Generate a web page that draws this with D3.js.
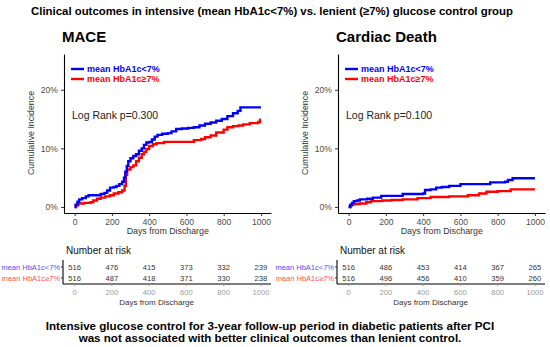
<!DOCTYPE html>
<html>
<head>
<meta charset="utf-8">
<script src="https://cdn.jsdelivr.net/npm/d3@7"></script>
<style>
  body { margin: 0; background: #fff; }
  text { font-family: "Liberation Sans", Arial, sans-serif; }
</style>
</head>
<body>
<div id="chart"></div>
<script>
// cumulative incidence curves, [day, percent]
var maceLow = [[0,0],[5,0.4],[15,0.9],[25,1.3],[40,1.5],[60,1.8],[75,2.0],[110,2.0],[140,2.2],[160,2.4],[175,2.8],[190,3.3],[210,3.4],[225,3.6],[240,3.9],[255,4.3],[265,5.0],[272,6.0],[280,7.0],[288,7.8],[300,8.3],[315,8.7],[330,9.0],[345,9.6],[360,10.0],[372,10.6],[385,11.0],[400,11.1],[415,11.5],[430,12.0],[445,12.3],[470,12.5],[500,12.6],[520,12.9],[545,13.3],[575,13.4],[610,13.5],[640,13.6],[670,13.9],[700,14.2],[730,14.4],[760,14.7],[790,15.0],[820,15.5],[850,16.0],[875,16.4],[890,17.0],[1000,17.0]];
var maceHigh = [[0,0],[8,0.3],[20,0.6],[50,0.7],[85,0.8],[100,1.1],[120,1.4],[140,1.6],[165,1.8],[190,2.0],[210,2.3],[235,2.5],[255,2.8],[268,3.6],[275,5.5],[282,6.4],[300,6.8],[315,7.1],[330,7.8],[345,8.4],[360,9.0],[372,9.4],[385,9.9],[400,10.4],[420,10.7],[440,10.9],[480,11.1],[620,11.1],[640,11.4],[680,11.6],[700,11.9],[730,12.2],[760,12.7],[800,13.2],[820,13.6],[850,13.8],[880,13.9],[905,14.1],[940,14.3],[985,14.5],[995,14.9],[1000,14.9]];
var cdLow = [[0,0],[8,0.3],[18,0.7],[28,1.0],[45,1.1],[60,1.3],[100,1.4],[130,1.6],[175,1.9],[240,1.9],[290,2.2],[360,2.2],[400,2.3],[410,2.9],[440,3.0],[470,3.3],[500,3.4],[540,3.6],[600,3.9],[700,3.9],[760,4.2],[840,4.3],[855,4.6],[880,4.9],[1000,4.9]];
var cdHigh = [[0,0],[10,0.4],[30,0.5],[60,0.6],[95,0.8],[120,1.0],[180,1.1],[230,1.2],[290,1.3],[370,1.5],[440,1.7],[540,1.8],[640,2.0],[700,2.3],[740,2.6],[800,2.7],[870,3.0],[1000,3.0]];

// number at risk
var riskDays = [0, 200, 400, 600, 800, 1000];
var maceRiskLow = [516, 476, 415, 373, 332, 239];
var maceRiskHigh = [516, 487, 418, 371, 330, 238];
var cdRiskLow = [516, 486, 453, 414, 367, 265];
var cdRiskHigh = [516, 496, 456, 410, 359, 260];

var groupNames = ["mean HbA1c<7%", "mean HbA1c\u22657%"];
var yTicks = [0, 10, 20];
var xTicks = [0, 200, 400, 600, 800, 1000];

var width = 550, height = 347;
var svg = d3.select("#chart").append("svg").attr("width", width).attr("height", height);

svg.append("text").attr("x", 272).attr("y", 15).attr("text-anchor", "middle")
  .style("font-size", "11.4px").style("font-weight", "bold")
  .text("Clinical outcomes in intensive (mean HbA1c<7%) vs. lenient (\u22657%) glucose control group");

svg.append("text").attr("x", 270).attr("y", 330).attr("text-anchor", "middle")
  .style("font-size", "11.6px").style("font-weight", "bold")
  .text("Intensive glucose control for 3-year follow-up period in diabetic patients after PCI");
svg.append("text").attr("x", 270).attr("y", 342).attr("text-anchor", "middle")
  .style("font-size", "11.6px").style("font-weight", "bold")
  .text("was not associated with better clinical outcomes than lenient control.");

function drawPanel(p) {
  var g = svg.append("g");
  var x = d3.scaleLinear().domain([-57, 1054]).range([p.left, p.left + 207]);
  var y = d3.scaleLinear().domain([-1.03, 26.1]).range([213, 54]);

  g.append("text").attr("x", p.left - 2).attr("y", 42)
    .style("font-size", "15px").style("font-weight", "bold").text(p.title);

  // axes
  var yAxis = g.append("g").attr("transform", "translate(" + p.left + ",0)")
    .call(d3.axisLeft(y).tickValues(yTicks).tickSize(3).tickSizeOuter(0).tickFormat(function(d) { return d + "%"; }));
  var xAxis = g.append("g").attr("transform", "translate(0,213)")
    .call(d3.axisBottom(x).tickValues(xTicks).tickSize(3).tickSizeOuter(0).tickFormat(d3.format("d")));
  [yAxis, xAxis].forEach(function(a) {
    a.select(".domain").attr("stroke", "#000").attr("stroke-width", 1.1);
    a.selectAll(".tick line").attr("stroke", "#333");
    a.selectAll("text").attr("fill", "#4d4d4d").style("font-size", "8.6px").style("font-family", "Liberation Sans, Arial, sans-serif");
  });

  g.append("text").attr("transform", "translate(" + (p.left - 30) + ",133) rotate(-90)")
    .attr("text-anchor", "middle").attr("fill", "#333").style("font-size", "8.8px").text("Cumulative Incidence");
  g.append("text").attr("x", x(500)).attr("y", 234).attr("text-anchor", "middle")
    .attr("fill", "#333").style("font-size", "8.8px").text("Days from Discharge");

  // curves
  var line = d3.line().curve(d3.curveStepAfter)
    .x(function(d) { return x(d[0]); })
    .y(function(d) { return y(d[1]); });
  g.append("path").datum(p.high).attr("d", line).attr("fill", "none").attr("stroke", "#ff0000").attr("stroke-width", 2.4);
  g.append("path").datum(p.low).attr("d", line).attr("fill", "none").attr("stroke", "#0000ff").attr("stroke-width", 2.4);

  // legend
  var colors = ["#0000ff", "#ff0000"];
  groupNames.forEach(function(name, i) {
    var ly = 69 + i * 10;
    g.append("line").attr("x1", p.left + 7).attr("x2", p.left + 20).attr("y1", ly).attr("y2", ly)
      .attr("stroke", colors[i]).attr("stroke-width", 2.4);
    g.append("text").attr("x", p.left + 23).attr("y", ly + 3.2).attr("fill", colors[i])
      .style("font-size", "9px").style("font-weight", "bold").text(name);
  });

  g.append("text").attr("x", p.left + 8).attr("y", 119).attr("fill", "#222")
    .style("font-size", "10.5px").text(p.logrank);

  // number at risk table
  g.append("text").attr("x", p.left + 2).attr("y", 254).style("font-size", "10px").attr("fill", "#111").text("Number at risk");
  var rows = [p.riskLow, p.riskHigh];
  var rowY = [267, 278];
  var rowColors = ["#5050ff", "#ff5050"];
  g.append("line").attr("x1", p.left - 1).attr("x2", p.left - 1).attr("y1", 260).attr("y2", 284).attr("stroke", "#000").attr("stroke-width", 1.1);
  g.append("line").attr("x1", p.left - 1).attr("x2", p.left + 207).attr("y1", 284).attr("y2", 284).attr("stroke", "#000").attr("stroke-width", 1.1);
  rows.forEach(function(vals, r) {
    g.append("line").attr("x1", p.left - 3).attr("x2", p.left - 1).attr("y1", rowY[r]).attr("y2", rowY[r]).attr("stroke", "#333");
    g.append("text").attr("x", p.left - 4).attr("y", rowY[r] + 2.5).attr("text-anchor", "end")
      .attr("fill", rowColors[r]).style("font-size", "7.5px").text(groupNames[r]);
    g.selectAll(null).data(vals).enter().append("text")
      .attr("x", function(d, i) { return x(riskDays[i]); })
      .attr("y", rowY[r] + 2.8).attr("text-anchor", "middle")
      .attr("fill", "#333").style("font-size", "7.6px")
      .text(function(d) { return d; });
  });
  g.selectAll(null).data(xTicks).enter().append("text")
    .attr("x", function(d) { return x(d); }).attr("y", 295).attr("text-anchor", "middle")
    .attr("fill", "#999").style("font-size", "7.6px").text(function(d) { return d; });
  g.selectAll(null).data(xTicks).enter().append("line")
    .attr("x1", function(d) { return x(d); }).attr("x2", function(d) { return x(d); })
    .attr("y1", 284).attr("y2", 286).attr("stroke", "#999");
  g.append("text").attr("x", x(440)).attr("y", 305).attr("text-anchor", "middle")
    .attr("fill", "#333").style("font-size", "8px").text("Days from Discharge");
}

drawPanel({ left: 64, title: "MACE", low: maceLow, high: maceHigh, logrank: "Log Rank p=0.300", riskLow: maceRiskLow, riskHigh: maceRiskHigh });
drawPanel({ left: 338, title: "Cardiac Death", low: cdLow, high: cdHigh, logrank: "Log Rank p=0.100", riskLow: cdRiskLow, riskHigh: cdRiskHigh });
</script>
</body>
</html>
